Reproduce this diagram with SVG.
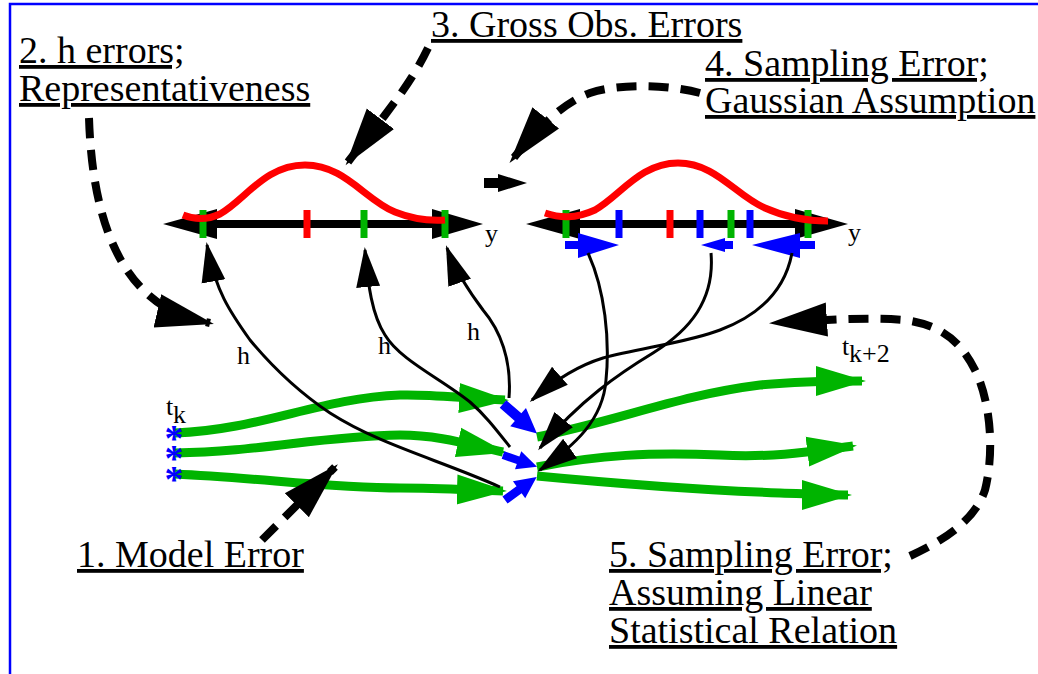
<svg xmlns="http://www.w3.org/2000/svg" width="1038" height="674" viewBox="0 0 1038 674">
<style>
.lbl{font-family:"Liberation Serif","Times New Roman",serif;font-size:38px;fill:#000;text-decoration:underline;}
.sm{font-family:"Liberation Serif","Times New Roman",serif;font-size:26px;fill:#000;}
.thin{fill:none;stroke:#000;stroke-width:3;marker-end:url(#ahThin);}
.dash{fill:none;stroke:#000;stroke-width:8;stroke-dasharray:20 12;marker-end:url(#ahThick);}
.traj{fill:none;stroke:#00b400;stroke-width:9;marker-end:url(#ahGreen);}
.tg{fill:#00b400}.tr{fill:#ff0000}.tb{fill:#0000ff}
.gauss{fill:none;stroke:#ff0000;stroke-width:7}
.axis{stroke:#000;stroke-width:8}
.star{font-family:"Liberation Serif","Times New Roman",serif;font-size:38px;fill:#0000ff;font-weight:bold}
</style>
<defs>
<marker id="ahThin" markerUnits="userSpaceOnUse" markerWidth="42" markerHeight="28" viewBox="0 0 42 28" refX="37" refY="14" orient="auto"><path d="M0,2 L40,14 L0,26 Z" fill="#000"/></marker>
<marker id="ahGreen" markerUnits="userSpaceOnUse" markerWidth="52" markerHeight="34" viewBox="0 0 52 34" refX="46" refY="17" orient="auto"><path d="M0,2 L50,17 L0,32 Z" fill="#00b400"/></marker>
<marker id="ahThick" markerUnits="userSpaceOnUse" markerWidth="60" markerHeight="38" viewBox="0 0 60 38" refX="54" refY="19" orient="auto"><path d="M0,2 L58,19 L0,36 Z" fill="#000"/></marker>
<path id="ba" d="M0,-5 L20,-5 L20,-12 L45,0 L20,12 L20,5 L0,5 Z" fill="#0000ff"/>
</defs>

<path id="border" d="M10,674 L10,4 L1038,4" fill="none" stroke="#0000ff" stroke-width="2.5"/>

<g id="axis1">
<line class="axis" x1="200" y1="224" x2="440" y2="224"/>
<path d="M163,224 L217,209 L217,239 Z"/>
<path d="M483,224 L432,209 L432,239 Z"/>
<rect class="tg" x="199.5" y="210" width="7" height="28"/>
<rect class="tr" x="303.5" y="210" width="7" height="28"/>
<rect class="tg" x="360.5" y="210" width="7" height="28"/>
<rect class="tg" x="441.5" y="210" width="7" height="28"/>
<path class="gauss" d="M183,215 C193,219 205,221 220,214 C245,200 265,165 305,165 C345,165 365,200 395,212 C415,220 430,221 445,220"/>
<text class="sm" x="485" y="242">y</text>
</g>

<g id="axis2">
<line class="axis" x1="560" y1="224" x2="810" y2="224"/>
<path d="M526,224 L580,209 L580,239 Z"/>
<path d="M848,224 L795,209 L795,239 Z"/>
<rect class="tg" x="562.5" y="210" width="7" height="28"/>
<rect class="tb" x="615.5" y="210" width="7" height="28"/>
<rect class="tr" x="666.5" y="210" width="7" height="28"/>
<rect class="tb" x="696.5" y="210" width="7" height="28"/>
<rect class="tg" x="727.5" y="210" width="7" height="28"/>
<rect class="tb" x="746.5" y="210" width="7" height="28"/>
<rect class="tg" x="804.5" y="210" width="7" height="28"/>
<path class="gauss" d="M545,213 C560,218 575,219 595,210 C620,196 640,163 678,163 C716,163 736,196 765,208 C785,217 805,221 828,221"/>
<path class="tb" d="M565,241 L578,241 L578,233 L619,245 L578,258 L578,249 L565,249 Z"/>
<path class="tb" d="M733,241 L725,241 L725,238 L701,245 L725,252 L725,249 L733,249 Z"/>
<path class="tb" d="M815,241 L800,241 L800,233 L752,245 L800,258 L800,249 L815,249 Z"/>
<text class="sm" x="848" y="241">y</text>
</g>

<g id="trajectories">
<path class="traj" d="M175,433 C260,430 320,398 400,395 C430,394 460,398 505,400"/>
<path class="traj" d="M175,453 C260,452 320,436 400,435 C440,435 470,445 503,452"/>
<path class="traj" d="M175,474 C260,478 330,488 400,488 C440,488 470,490 503,491"/>
<path class="traj" d="M537,437 C620,420 680,395 760,385 C800,381 830,381 862,381"/>
<path class="traj" d="M537,467 C600,455 650,452 720,455 C780,458 820,450 853,446"/>
<path class="traj" d="M537,476 C600,482 700,490 780,493 C810,494 830,495 848,495"/>
<use href="#ba" transform="translate(503,404) rotate(41)"/>
<use href="#ba" transform="translate(503,455) rotate(19) scale(0.8)"/>
<use href="#ba" transform="translate(505,500) rotate(-36) scale(0.87)"/>
<text class="star" text-anchor="middle"><tspan x="174" y="451">*</tspan><tspan x="174" y="471">*</tspan><tspan x="174" y="492">*</tspan></text>
<text class="sm" x="166" y="415" font-size="24">t</text>
<text class="sm" x="173" y="423" font-size="18">k</text>
<text class="sm" x="842" y="355" font-size="24">t</text>
<text class="sm" x="849" y="362" font-size="19">k+2</text>
</g>

<g id="connectors">
<path class="thin" d="M500,487 C440,460 380,445 330,413 C300,393 275,370 250,340 C230,312 215,290 207,245"/>
<path class="thin" d="M510,447 C495,428 485,415 470,402 C440,378 400,360 385,335 C372,315 368,285 365,250"/>
<path class="thin" d="M509,398 C512,360 500,330 483,310 C468,290 455,270 447,248"/>
<path class="thin" d="M792,253 C785,290 760,315 720,330 C690,342 640,348 603,358 C580,365 555,380 532,400"/>
<path class="thin" d="M711,253 C715,300 690,330 653,353 C620,373 580,400 540,448"/>
<path class="thin" d="M588,253 C605,290 610,340 606,380 C603,420 575,445 540,470"/>
<text class="sm" x="237" y="364">h</text>
<text class="sm" x="378" y="354">h</text>
<text class="sm" x="467" y="340">h</text>
<path class="dash" d="M89,118 C92,210 115,280 170,310 C185,318 197,320 210,323"/>
<path class="dash" d="M428,48 C415,75 400,95 385,115 C372,132 360,146 348,162"/>
<path class="dash" d="M700,93 C670,85 620,83 590,93 C565,102 540,125 512,160"/>
<path class="dash" d="M910,556 C945,540 975,520 985,490 C995,450 990,400 975,370 C960,340 940,325 905,320 C870,317 820,320 773,323"/>
<path class="dash" d="M262,540 L335,467"/>
<path d="M484,178 L498,178 L498,174 L527,183 L498,192 L498,188 L484,188 Z" fill="#000"/>
</g>

<g id="label2"><text class="lbl" x="19" y="63">2. h errors;</text><text class="lbl" x="19" y="101">Representativeness</text></g>
<g id="label3"><text class="lbl" x="431" y="37">3. Gross Obs. Errors</text></g>
<g id="label4"><text class="lbl" x="705" y="76">4. Sampling Error;</text><text class="lbl" x="705" y="113">Gaussian Assumption</text></g>
<g id="label1"><text class="lbl" x="77" y="567">1. Model Error</text></g>
<g id="label5" xml:space="preserve"><text class="lbl" x="609" y="567">5. Sampling Error;</text><text class="lbl" x="609" y="605">Assuming Linear </text><text class="lbl" x="609" y="643">Statistical Relation </text></g>
</svg>
